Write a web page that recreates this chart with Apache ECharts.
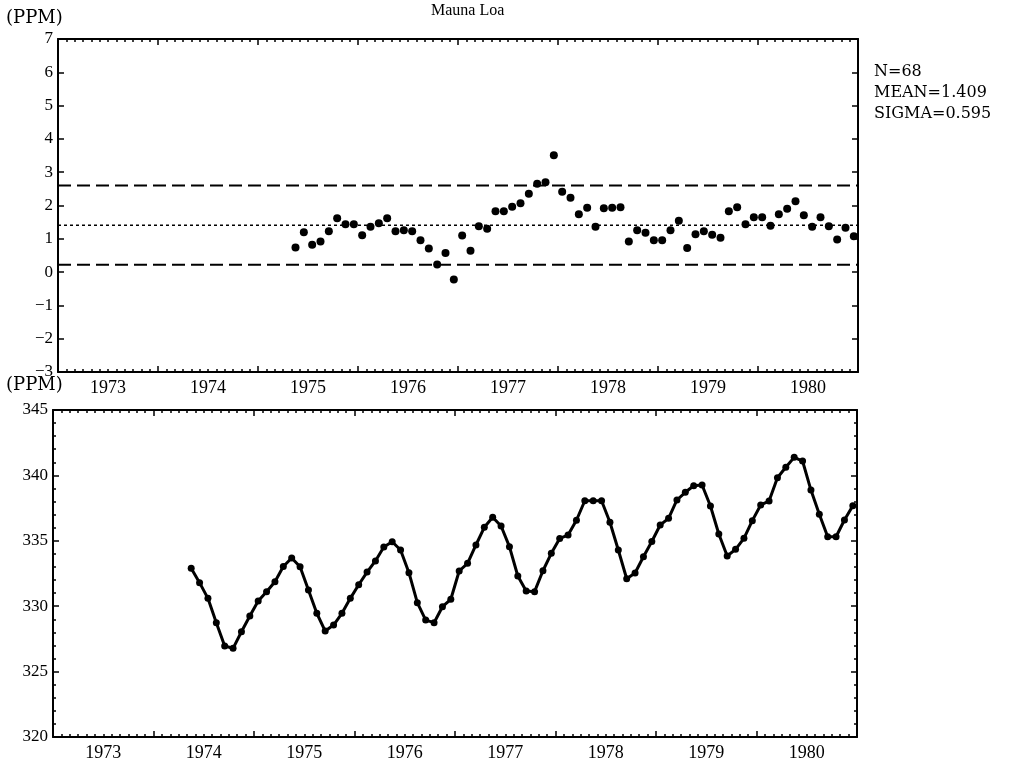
<!DOCTYPE html>
<html>
<head>
<meta charset="utf-8">
<script src="https://cdn.jsdelivr.net/npm/echarts@6/dist/echarts.min.js"></script>
<style>html,body{margin:0;padding:0;background:#fff}#c{width:1010px;height:762px}</style>
</head>
<body>
<div id="c"></div>
<script>
// ---- data ----
const title = 'Mauna Loa';
const unitLabel = '(PPM)';
const yearLabels = [1973, 1974, 1975, 1976, 1977, 1978, 1979, 1980];
const xMin = 1973, xMax = 1981;

// top panel: 12-month differences, monthly from May 1975 to Dec 1980
const topStart = [1975, 5];
const topValues = [
  0.74, 1.20, 0.82, 0.92, 1.23, 1.62, 1.44, 1.44, 1.11, 1.36, 1.47, 1.62,
  1.23, 1.26, 1.23, 0.96, 0.71, 0.23, 0.57, -0.22, 1.10, 0.64, 1.38, 1.30,
  1.83, 1.83, 1.96, 2.07, 2.35, 2.65, 2.70, 3.51, 2.41, 2.23, 1.74, 1.93,
  1.36, 1.92, 1.93, 1.95, 0.92, 1.26, 1.18, 0.96, 0.96, 1.26, 1.54, 0.72,
  1.14, 1.23, 1.12, 1.03, 1.83, 1.95, 1.44, 1.65, 1.65, 1.39, 1.74, 1.90,
  2.13, 1.71, 1.36, 1.65, 1.38, 0.98, 1.33, 1.08
];
const statN = 68, statMean = 1.409, statSigma = 0.595;

// bottom panel: monthly CO2 concentration, May 1974 to Dec 1980
const bottomStart = [1974, 5];
const bottomValues = [
  332.90, 331.80, 330.60, 328.74, 326.96, 326.78, 328.05, 329.25,
  330.40, 331.11, 331.87, 333.04, 333.69, 333.02, 331.24, 329.46, 328.10, 328.56, 329.46, 330.60,
  331.64, 332.61, 333.46, 334.53, 334.93, 334.30, 332.56, 330.27, 328.94, 328.74, 329.96, 330.53,
  332.69, 333.28, 334.68, 336.03, 336.80, 336.13, 334.55, 332.31, 331.16, 331.11, 332.71, 334.04,
  335.18, 335.44, 336.57, 338.06, 338.06, 338.06, 336.42, 334.30, 332.10, 332.54, 333.78, 334.95,
  336.21, 336.72, 338.12, 338.71, 339.21, 339.27, 337.66, 335.52, 333.84, 334.35, 335.19, 336.54,
  337.74, 338.04, 339.82, 340.62, 341.38, 341.10, 338.88, 337.03, 335.31, 335.31, 336.59, 337.68
];

// ---- build ----
function monthSeries(start, vals) {
  return vals.map((v, i) => [start[0] + (start[1] - 0.5 + i) / 12, v]);
}
const serif = '"Liberation Serif", "Times New Roman", serif';
const black = '#000';

function xAxesFor(g) {
  return [
    { // labels at mid-year, bottom line
      gridIndex: g, type: 'value', min: xMin, max: xMax, interval: 0.5, position: 'bottom',
      axisLine: { show: true, onZero: false, lineStyle: { color: black, width: 2 } },
      axisTick: { show: false }, splitLine: { show: false },
      axisLabel: {
        show: true, margin: 7, color: black, fontFamily: serif, fontSize: 18,
        formatter: v => (Math.abs((v % 1) - 0.5) < 1e-6 && yearLabels.includes(Math.floor(v))) ? String(Math.floor(v)) : ''
      }
    },
    { // ticks on bottom edge
      gridIndex: g, type: 'value', min: xMin, max: xMax, interval: 1, position: 'bottom',
      axisLine: { show: false, onZero: false },
      axisTick: { show: true, inside: true, length: 6, lineStyle: { color: black, width: 1.5 } },
      minorTick: { show: true, splitNumber: 12, length: 3, lineStyle: { color: black, width: 1.5 } },
      axisLabel: { show: false }, splitLine: { show: false }
    },
    { // mirrored top edge
      gridIndex: g, type: 'value', min: xMin, max: xMax, interval: 1, position: 'top',
      axisLine: { show: true, onZero: false, lineStyle: { color: black, width: 2 } },
      axisTick: { show: true, inside: true, length: 6, lineStyle: { color: black, width: 1.5 } },
      minorTick: { show: true, splitNumber: 12, length: 3, lineStyle: { color: black, width: 1.5 } },
      axisLabel: { show: false }, splitLine: { show: false }
    }
  ];
}
function yAxesFor(g, min, max, interval, minorSplit, fmt) {
  const minor = minorSplit ? { show: true, splitNumber: minorSplit, length: 3, lineStyle: { color: black, width: 1.5 } } : { show: false };
  return [
    {
      gridIndex: g, type: 'value', min, max, interval, position: 'left',
      axisLine: { show: true, onZero: false, lineStyle: { color: black, width: 2 } },
      axisTick: { show: true, inside: true, length: 6, lineStyle: { color: black, width: 1.5 } },
      minorTick: minor,
      axisLabel: { show: true, margin: 5, color: black, fontFamily: serif, fontSize: 17, formatter: fmt },
      splitLine: { show: false }
    },
    {
      gridIndex: g, type: 'value', min, max, interval, position: 'right',
      axisLine: { show: true, onZero: false, lineStyle: { color: black, width: 2 } },
      axisTick: { show: true, inside: true, length: 6, lineStyle: { color: black, width: 1.5 } },
      minorTick: minor,
      axisLabel: { show: false }, splitLine: { show: false }
    }
  ];
}

const upper = statMean + 2 * statSigma, lower = statMean - 2 * statSigma;

const chart = echarts.init(document.getElementById('c'), null, { renderer: 'canvas' });
chart.setOption({
  animation: false,
  backgroundColor: '#fff',
  grid: [
    { left: 58, top: 39, width: 800, height: 333 },
    { left: 53, top: 410, width: 804, height: 327 }
  ],
  xAxis: [...xAxesFor(0), ...xAxesFor(1)],
  yAxis: [
    ...yAxesFor(0, -3, 7, 1, 0, v => v < 0 ? '\u2212' + (-v) : String(v)),
    ...yAxesFor(1, 320, 345, 5, 5, v => String(v))
  ],
  graphic: [
    { type: 'text', left: 6, top: 9, style: { text: unitLabel, font: '18px "DejaVu Serif", serif', fill: black } },
    { type: 'text', left: 6, top: 376, style: { text: unitLabel, font: '18px "DejaVu Serif", serif', fill: black } },
    { type: 'text', left: 431, top: 3, style: { text: title, font: '16px ' + serif, fill: black } },
    { type: 'text', left: 874, top: 61, style: {
      text: 'N=' + statN + '\nMEAN=' + statMean.toFixed(3) + '\nSIGMA=' + statSigma.toFixed(3),
      font: '16px "DejaVu Serif", serif', lineHeight: 21, fill: black } }
  ],
  series: [
    { type: 'line', xAxisIndex: 0, yAxisIndex: 0, data: [[xMin, upper], [xMax, upper]], showSymbol: false, silent: true,
      lineStyle: { color: black, width: 2, type: [13, 6] } },
    { type: 'line', xAxisIndex: 0, yAxisIndex: 0, data: [[xMin, lower], [xMax, lower]], showSymbol: false, silent: true,
      lineStyle: { color: black, width: 2, type: [13, 6] } },
    { type: 'line', xAxisIndex: 0, yAxisIndex: 0, data: [[xMin, statMean], [xMax, statMean]], showSymbol: false, silent: true,
      lineStyle: { color: black, width: 1.5, type: [3, 3] } },
    { type: 'scatter', xAxisIndex: 0, yAxisIndex: 0, data: monthSeries(topStart, topValues), symbol: 'circle', symbolSize: 8,
      itemStyle: { color: black, opacity: 1 }, silent: true },
    { type: 'line', xAxisIndex: 3, yAxisIndex: 2, data: monthSeries(bottomStart, bottomValues), symbol: 'circle', symbolSize: 7,
      showSymbol: true, lineStyle: { color: black, width: 3 }, itemStyle: { color: black, opacity: 1 }, silent: true }
  ]
});
</script>
</body>
</html>
